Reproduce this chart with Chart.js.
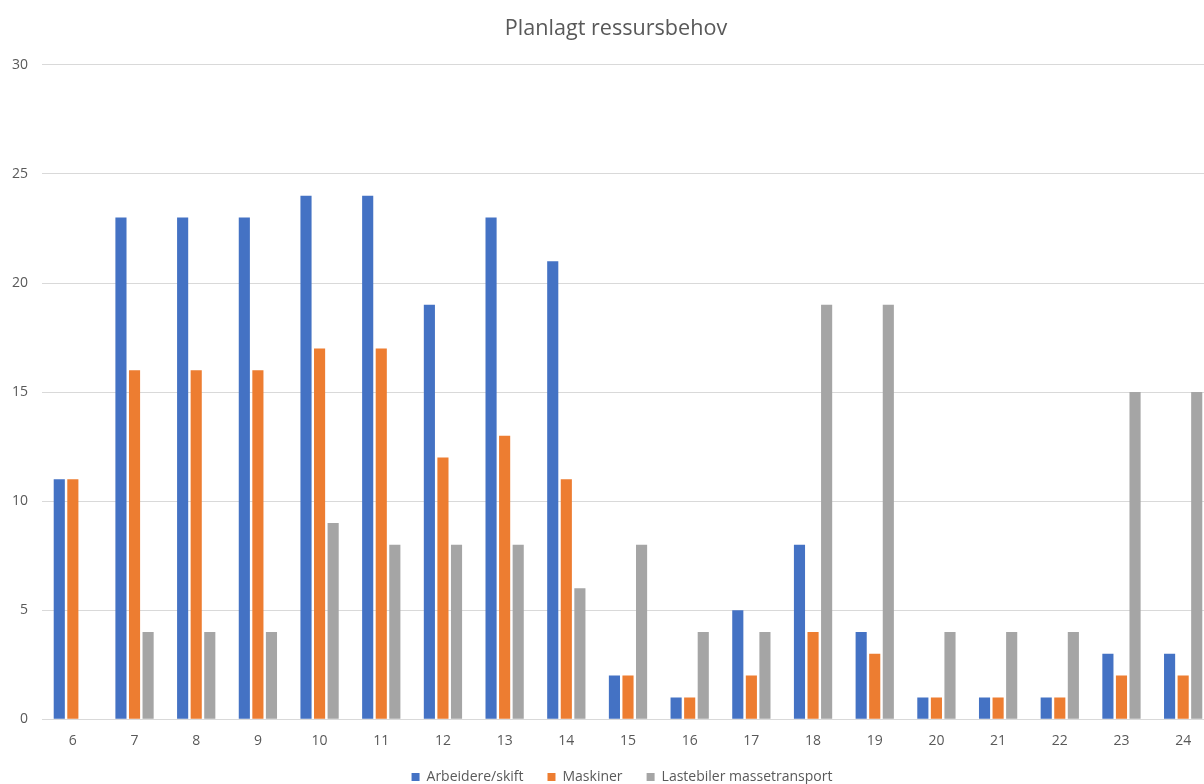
<!DOCTYPE html>
<html>
<head>
<meta charset="utf-8">
<script src="https://cdn.jsdelivr.net/npm/chart.js@4/dist/chart.umd.min.js"></script>
<style>
  html, body { margin: 0; padding: 0; background: #ffffff; overflow: hidden; }
  #wrap { width: 1236px; height: 784px; }
</style>
</head>
<body>
<div id="wrap"><canvas id="chart" width="1236" height="784"></canvas></div>
<script>
// Uker i planen
const weeks = ['6','7','8','9','10','11','12','13','14','15','16','17','18','19','20','21','22','23','24'];

// Ressurser per uke
const arbeidere = [11, 23, 23, 23, 24, 24, 19, 23, 21, 2, 1, 5, 8, 4, 1, 1, 1, 3, 3];
const maskiner  = [11, 16, 16, 16, 17, 17, 12, 13, 11, 2, 1, 2, 4, 3, 1, 1, 1, 2, 2];
const lastebiler = [null, 4, 4, 4, 9, 8, 8, 8, 6, 8, 4, 4, 19, 19, 4, 4, 4, 15, 15];

const seriesNames = ['Arbeidere/skift', 'Maskiner', 'Lastebiler massetransport'];
const yTicks = [0, 5, 10, 15, 20, 25, 30];

const textColor = '#595959';
const gridColor = '#D9D9D9';
const fontFamily = '"Open Sans", "Liberation Sans", sans-serif';

const colors = ['#4472C4', '#ED7D31', '#A5A5A5'];
const values = [arbeidere, maskiner, lastebiler];

// Tighter legend box (wide gaps between items kept) and small horizontal
// nudges for the title and legend.
const layoutTweaks = {
  id: 'layoutTweaks',
  afterInit(chart) {
    const legend = chart.legend;
    const fit = legend.fit;
    legend.fit = function () {
      fit.call(this);
      this.height -= 26;
    };
  },
  afterLayout(chart) {
    const legend = chart.legend;
    legend.top -= 16;
    legend.left += 15;
    legend.right += 15;
    const title = chart.titleBlock;
    title.left += 9;
    title.right += 9;
  }
};

new Chart(document.getElementById('chart'), {
  type: 'bar',
  data: {
    labels: weeks,
    datasets: values.map((v, i) => ({
      label: seriesNames[i],
      data: v,
      backgroundColor: colors[i],
      borderWidth: 0,
      categoryPercentage: 0.66,
      barPercentage: 0.82
    }))
  },
  plugins: [layoutTweaks],
  options: {
    responsive: false,
    animation: false,
    layout: { padding: { top: 10, left: 0, right: 22, bottom: 0 } },
    plugins: {
      title: {
        display: true,
        text: 'Planlagt ressursbehov',
        color: textColor,
        font: { family: fontFamily, size: 21.6, weight: 'normal' },
        padding: { top: 6, bottom: 23 }
      },
      legend: {
        position: 'bottom',
        labels: {
          color: textColor,
          font: { family: fontFamily, size: 14 },
          boxWidth: 8,
          boxHeight: 8,
          padding: 24
        }
      },
      tooltip: { enabled: false }
    },
    scales: {
      x: {
        grid: { display: false, drawTicks: false },
        border: { display: false },
        ticks: { color: textColor, font: { family: fontFamily, size: 14 }, padding: 13 }
      },
      y: {
        min: 0,
        max: 30,
        afterBuildTicks: (axis) => { axis.ticks = yTicks.map(v => ({ value: v })); },
        afterFit: (axis) => { axis.width = 42; },
        grid: { color: gridColor, lineWidth: 1, drawTicks: false },
        border: { display: false },
        ticks: { color: textColor, font: { family: fontFamily, size: 14 }, padding: 14 }
      }
    }
  }
});
</script>
</body>
</html>
